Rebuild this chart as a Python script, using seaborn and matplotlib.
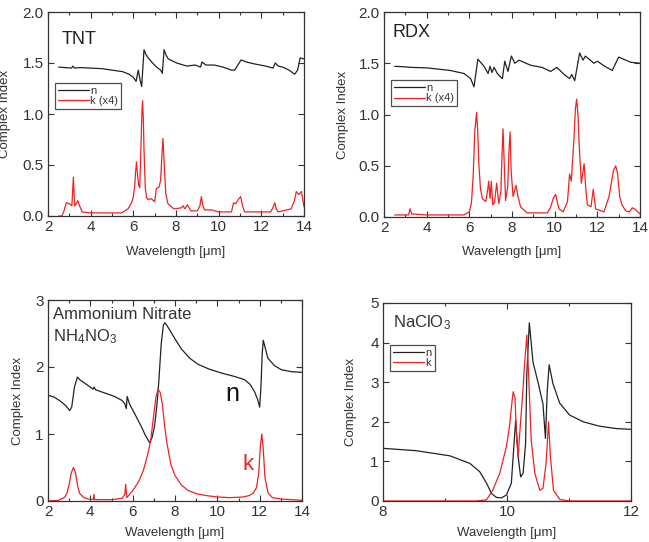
import numpy as np
import seaborn as sns
import matplotlib.pyplot as plt
from matplotlib.ticker import MultipleLocator

# (wavelength [um], value)
tnt_n = np.array([
    (2.5, 1.46), (2.8, 1.455), (3.1, 1.45), (3.17, 1.47), (3.24, 1.45), (3.5, 1.455),
    (4.0, 1.45), (4.5, 1.445), (5.0, 1.43), (5.5, 1.415), (5.8, 1.39), (6.0, 1.36),
    (6.13, 1.32), (6.23, 1.43), (6.32, 1.33), (6.39, 1.27), (6.5, 1.63), (6.6, 1.58),
    (6.7, 1.55), (6.9, 1.50), (7.09, 1.46), (7.28, 1.43), (7.36, 1.40), (7.44, 1.63),
    (7.55, 1.57), (7.64, 1.54), (8.03, 1.50), (8.5, 1.47), (8.9, 1.48), (9.15, 1.46),
    (9.22, 1.51), (9.4, 1.48), (9.8, 1.48), (10.2, 1.46), (10.6, 1.43), (10.75, 1.43),
    (11.05, 1.53), (11.3, 1.51), (11.7, 1.49), (12.2, 1.47), (12.55, 1.45), (12.65, 1.50),
    (12.8, 1.47), (13.0, 1.46), (13.3, 1.43), (13.56, 1.39), (13.7, 1.43), (13.82, 1.55),
    (14.0, 1.54)])
tnt_k = np.array([
    (2.5, 0.0), (2.65, 0.0), (2.75, 0.05), (2.86, 0.13), (3.0, 0.12), (3.12, 0.10),
    (3.19, 0.38), (3.25, 0.10), (3.33, 0.12), (3.4, 0.15), (3.48, 0.10), (3.6, 0.04),
    (4.0, 0.03), (5.0, 0.03), (5.44, 0.03), (5.6, 0.05), (5.75, 0.07), (5.92, 0.13),
    (6.0, 0.19), (6.07, 0.30), (6.1, 0.42), (6.15, 0.53), (6.2, 0.40), (6.25, 0.30),
    (6.3, 0.28), (6.36, 0.70), (6.4, 1.00), (6.43, 1.13), (6.47, 0.95), (6.5, 0.65),
    (6.56, 0.28), (6.62, 0.18), (6.69, 0.16), (6.84, 0.17), (7.0, 0.14), (7.08, 0.27),
    (7.2, 0.28), (7.28, 0.35), (7.34, 0.60), (7.39, 0.76), (7.45, 0.50), (7.52, 0.22),
    (7.62, 0.12), (7.9, 0.07), (8.25, 0.08), (8.33, 0.10), (8.42, 0.07), (8.53, 0.11),
    (8.7, 0.05), (9.0, 0.05), (9.12, 0.10), (9.19, 0.19), (9.26, 0.10), (9.34, 0.06),
    (9.66, 0.06), (10.0, 0.04), (10.6, 0.04), (10.7, 0.13), (10.8, 0.12), (10.95, 0.17),
    (11.03, 0.19), (11.12, 0.10), (11.22, 0.04), (12.0, 0.04), (12.44, 0.04), (12.56, 0.09),
    (12.63, 0.13), (12.7, 0.07), (12.78, 0.04), (13.4, 0.07), (13.55, 0.15), (13.64, 0.24),
    (13.75, 0.21), (13.88, 0.24), (14.0, 0.09)])

rdx_n = np.array([
    (2.5, 1.47), (3.0, 1.465), (3.25, 1.46), (4.0, 1.455), (5.1, 1.43), (5.75, 1.40),
    (6.06, 1.35), (6.22, 1.27), (6.4, 1.54), (6.69, 1.47), (6.88, 1.40), (6.97, 1.47),
    (7.06, 1.41), (7.16, 1.46), (7.31, 1.40), (7.45, 1.37), (7.55, 1.35), (7.66, 1.52),
    (7.81, 1.42), (7.97, 1.57), (8.13, 1.50), (8.33, 1.53), (8.88, 1.48), (9.4, 1.46),
    (9.81, 1.42), (10.1, 1.46), (10.45, 1.39), (10.7, 1.35), (10.8, 1.39), (10.94, 1.33),
    (11.17, 1.60), (11.33, 1.53), (11.44, 1.57), (11.84, 1.50), (12.0, 1.52), (12.35, 1.47),
    (12.7, 1.43), (13.0, 1.56), (13.56, 1.51), (14.0, 1.50)])
rdx_k = np.array([
    (2.5, 0.02), (3.15, 0.02), (3.22, 0.08), (3.3, 0.03), (4.0, 0.02), (5.75, 0.02),
    (6.0, 0.05), (6.1, 0.14), (6.18, 0.40), (6.26, 0.85), (6.34, 1.02), (6.39, 0.85),
    (6.45, 0.50), (6.52, 0.28), (6.61, 0.18), (6.77, 0.15), (6.87, 0.28), (6.91, 0.35),
    (6.97, 0.18), (7.03, 0.35), (7.1, 0.12), (7.18, 0.14), (7.28, 0.33), (7.38, 0.13),
    (7.48, 0.25), (7.53, 0.60), (7.58, 0.86), (7.63, 0.55), (7.7, 0.16), (7.8, 0.30),
    (7.86, 0.65), (7.91, 0.83), (7.96, 0.45), (8.05, 0.20), (8.19, 0.31), (8.28, 0.20),
    (8.4, 0.10), (8.7, 0.04), (9.66, 0.04), (9.8, 0.09), (9.95, 0.19), (10.05, 0.22),
    (10.13, 0.14), (10.2, 0.08), (10.4, 0.05), (10.6, 0.15), (10.7, 0.42), (10.78, 0.35),
    (10.9, 0.75), (10.97, 1.05), (11.03, 1.15), (11.1, 0.98), (11.15, 0.70), (11.25, 0.33),
    (11.38, 0.52), (11.45, 0.30), (11.53, 0.12), (11.7, 0.10), (11.81, 0.27), (11.92, 0.08),
    (12.31, 0.05), (12.55, 0.20), (12.75, 0.45), (12.86, 0.50), (12.95, 0.42), (13.05, 0.20),
    (13.15, 0.12), (13.33, 0.06), (13.5, 0.05), (13.64, 0.09), (13.8, 0.07), (14.0, 0.03)])

an_n = np.array([
    (2.0, 1.58), (2.3, 1.55), (2.63, 1.48), (2.85, 1.42), (3.02, 1.35), (3.12, 1.40),
    (3.25, 1.70), (3.39, 1.85), (3.5, 1.81), (3.73, 1.76), (4.13, 1.67), (4.18, 1.70),
    (4.25, 1.66), (4.7, 1.61), (5.15, 1.56), (5.5, 1.50), (5.63, 1.45), (5.7, 1.38),
    (5.74, 1.56), (5.85, 1.45), (6.1, 1.30), (6.41, 1.11), (6.6, 0.98), (6.8, 0.87),
    (6.92, 0.95), (7.04, 1.13), (7.15, 1.45), (7.23, 1.76), (7.35, 2.35), (7.45, 2.62),
    (7.51, 2.66), (7.6, 2.63), (7.75, 2.55), (8.0, 2.42), (8.3, 2.27), (8.7, 2.13),
    (9.09, 2.04), (9.6, 1.97), (10.19, 1.91), (10.8, 1.86), (11.29, 1.81), (11.55, 1.74),
    (11.76, 1.63), (11.9, 1.52), (12.0, 1.40), (12.06, 1.70), (12.12, 2.20), (12.17, 2.40),
    (12.25, 2.30), (12.39, 2.13), (12.7, 2.02), (13.02, 1.96), (13.5, 1.93), (14.0, 1.92)])
an_k = np.array([
    (2.0, 0.0), (2.5, 0.01), (2.8, 0.06), (2.9, 0.12), (3.0, 0.25), (3.1, 0.42),
    (3.2, 0.50), (3.3, 0.42), (3.4, 0.22), (3.5, 0.11), (3.7, 0.05), (3.9, 0.03),
    (4.14, 0.02), (4.17, 0.10), (4.2, 0.02), (5.0, 0.02), (5.5, 0.04), (5.63, 0.10),
    (5.67, 0.25), (5.72, 0.05), (6.0, 0.15), (6.3, 0.30), (6.5, 0.45), (6.7, 0.68),
    (6.85, 0.90), (7.0, 1.30), (7.1, 1.55), (7.2, 1.67), (7.3, 1.62), (7.4, 1.45),
    (7.5, 1.15), (7.6, 0.90), (7.8, 0.55), (8.0, 0.38), (8.3, 0.24), (8.6, 0.16),
    (9.0, 0.11), (9.5, 0.08), (10.0, 0.06), (10.6, 0.05), (11.2, 0.06), (11.5, 0.08),
    (11.7, 0.12), (11.85, 0.20), (11.95, 0.40), (12.03, 0.80), (12.1, 1.00), (12.16, 0.82),
    (12.25, 0.35), (12.4, 0.12), (12.6, 0.05), (13.0, 0.03), (14.0, 0.01)])

na_n = np.array([
    (8.0, 1.33), (8.54, 1.27), (9.08, 1.14), (9.4, 0.95), (9.56, 0.74), (9.67, 0.45),
    (9.75, 0.19), (9.83, 0.09), (9.91, 0.08), (9.99, 0.15), (10.07, 0.45), (10.11, 1.37),
    (10.14, 2.05), (10.18, 1.12), (10.22, 0.61), (10.26, 0.70), (10.3, 1.46), (10.32, 3.22),
    (10.36, 4.50), (10.42, 3.50), (10.5, 3.00), (10.58, 2.45), (10.62, 1.58), (10.65, 2.80),
    (10.68, 3.44), (10.74, 2.97), (10.85, 2.47), (11.01, 2.17), (11.23, 2.00), (11.49, 1.89),
    (11.76, 1.83), (12.0, 1.81)])
na_k = np.array([
    (8.0, 0.0), (9.5, 0.0), (9.67, 0.03), (9.77, 0.27), (9.88, 0.69), (9.99, 1.37),
    (10.04, 1.88), (10.08, 2.50), (10.1, 2.76), (10.13, 2.60), (10.15, 1.71), (10.18, 1.12),
    (10.2, 1.60), (10.25, 2.64), (10.28, 3.39), (10.32, 4.19), (10.35, 3.14), (10.39, 1.54),
    (10.45, 0.69), (10.53, 0.27), (10.58, 0.32), (10.63, 0.95), (10.67, 2.00), (10.7, 1.12),
    (10.75, 0.27), (10.85, 0.04), (11.01, 0.0), (12.0, 0.0)])
na_base = np.array([(9.5, 0.0), (10.85, 0.0)])

sns.set_style("ticks")
plt.rcParams['font.family'] = ['Liberation Sans', 'DejaVu Sans']
plt.rcParams['mathtext.fontset'] = 'custom'
plt.rcParams['mathtext.rm'] = 'Liberation Sans'
plt.rcParams['mathtext.it'] = 'Liberation Sans:italic'

TXT = '#333333'
N_COL = '#222222'
K_COL = '#ee2222'

fig = plt.figure(figsize=(6.49, 5.42), dpi=100)
W, H = 649, 542


def make_ax(l, r, t, b):
    return fig.add_axes([l / W, 1 - b / H, (r - l) / W, (b - t) / H])


def style(ax, xlim, ylim, xmaj, xmin, ymaj, xfmt, yfmt, xlab_y, ylab_x):
    ax.set_xlim(*xlim)
    ax.set_ylim(*ylim)
    ax.xaxis.set_major_locator(MultipleLocator(xmaj))
    ax.xaxis.set_minor_locator(MultipleLocator(xmin))
    ax.yaxis.set_major_locator(MultipleLocator(ymaj))
    ax.xaxis.set_major_formatter(xfmt)
    ax.yaxis.set_major_formatter(yfmt)
    ax.tick_params(which='both', direction='in', top=True, right=True,
                   colors=TXT, labelsize=11, width=0.8, pad=3)
    ax.tick_params(which='major', length=4)
    ax.tick_params(which='minor', length=2.5)
    for s in ax.spines.values():
        s.set_color(TXT)
        s.set_linewidth(0.9)
    ax.set_xlabel('Wavelength [μm]', fontsize=9.5, color=TXT)
    ax.set_ylabel('Complex Index', fontsize=9.5, color=TXT)
    ax.xaxis.set_label_coords(0.5, xlab_y)
    ax.yaxis.set_label_coords(ylab_x, 0.5)


def draw(ax, data, color, label=None):
    sns.lineplot(x=data[:, 0], y=data[:, 1], ax=ax, color=color, lw=0.9,
                 estimator=None, sort=False, label=label, legend=False)


def add_legend(ax, anchor):
    leg = ax.legend(loc='upper left', bbox_to_anchor=anchor, borderaxespad=0,
                    fontsize=8, frameon=True, fancybox=False, handlelength=2.8,
                    handletextpad=0.15, labelspacing=0.05, borderpad=0.25)
    leg.get_frame().set_edgecolor('#222222')
    leg.get_frame().set_linewidth(0.9)
    for t in leg.get_texts():
        t.set_color(TXT)


# TNT
ax1 = make_ax(48, 304, 12, 216)
draw(ax1, tnt_n, N_COL, 'n')
draw(ax1, tnt_k, K_COL, 'k (x4)')
style(ax1, (2, 14), (0, 2.0), 2, 1, 0.5, '{x:.0f}', '{x:.1f}', -0.147, -0.145)
add_legend(ax1, (0.027, 0.652))
ax1.text(0.055, 0.863, 'TNT', transform=ax1.transAxes, fontsize=13,
         color='#222222', va='center', ha='left')

# RDX
ax2 = make_ax(384, 640, 12, 217)
draw(ax2, rdx_n, N_COL, 'n')
draw(ax2, rdx_k, K_COL, 'k (x4)')
style(ax2, (2, 14), (0, 2.0), 2, 1, 0.5, '{x:.0f}', '{x:.1f}', -0.141, -0.137)
add_legend(ax2, (0.027, 0.668))
ax2.text(0.035, 0.898, 'RDX', transform=ax2.transAxes, fontsize=13,
         color='#222222', va='center', ha='left')

# Ammonium nitrate
ax3 = make_ax(48, 302, 300, 501)
draw(ax3, an_n, N_COL)
draw(ax3, an_k, K_COL)
style(ax3, (2, 14), (0, 3), 2, 1, 1, '{x:.0f}', '{x:.0f}', -0.13, -0.094)
ax3.text(0.02, 0.93, 'Ammonium Nitrate', transform=ax3.transAxes, fontsize=12,
         color=TXT, va='center', ha='left')
ax3.text(0.02, 0.82, 'NH$_4$NO$_3$', transform=ax3.transAxes, fontsize=12,
         color=TXT, va='center', ha='left')
ax3.text(10.7, 1.6, 'n', fontsize=18, color='#111111', ha='center', va='center')
ax3.text(11.45, 0.55, 'k', fontsize=16, color=K_COL, ha='center', va='center')

# NaClO3
ax4 = make_ax(383, 631, 303, 501)
draw(ax4, na_n, N_COL, 'n')
draw(ax4, na_k, K_COL, 'k')
sns.lineplot(x=na_base[:, 0], y=na_base[:, 1], ax=ax4, color='#555555', lw=0.9,
             estimator=None, legend=False)
style(ax4, (8, 12), (0, 5), 2, 1, 1, '{x:.0f}', '{x:.0f}', -0.132, -0.105)
add_legend(ax4, (0.028, 0.788))
ax4.text(0.04, 0.9, 'NaClO$_3$', transform=ax4.transAxes, fontsize=12,
         color=TXT, va='center', ha='left')

fig.savefig('out.png', dpi=100)
